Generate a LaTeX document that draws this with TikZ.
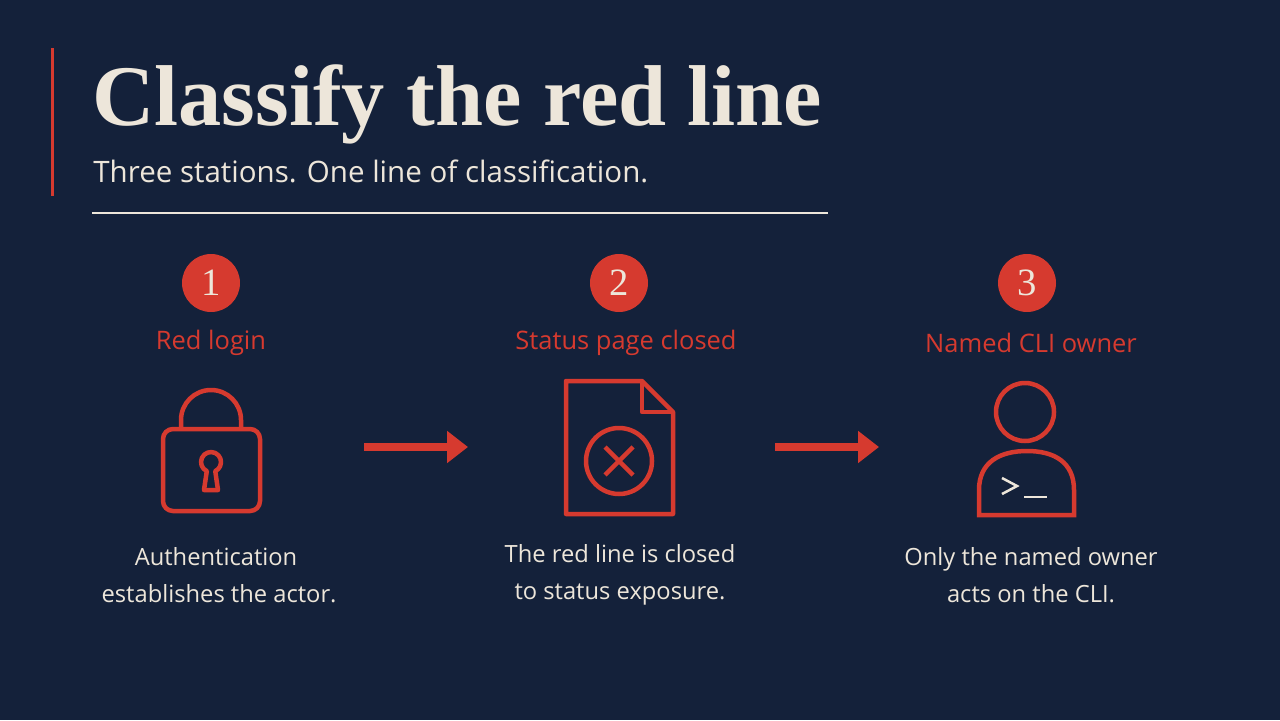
\documentclass[tikz,border=0pt]{standalone}
\usepackage{fontspec}
\setmainfont{Liberation Serif}
\setsansfont{Open Sans}
\usetikzlibrary{positioning,arrows.meta}
\definecolor{navy}{HTML}{14213A}
\definecolor{redline}{HTML}{D63A2F}
\definecolor{cream}{HTML}{EDE6DA}
\tikzset{
	numdot/.style={circle, fill=redline, minimum size=1.16cm, inner sep=0pt, text=cream, font=\fontsize{22}{22}\selectfont},
	steplabel/.style={text=redline, font=\sffamily\fontsize{14.5}{16}\selectfont},
	stepnote/.style={text=cream, align=center, font=\sffamily\fontsize{13.5}{21}\selectfont},
	icon/.style={draw=redline, line width=0.09cm},
	flow/.style={draw=redline, line width=0.16cm, -{Triangle[length=0.42cm, width=0.62cm]}}
}
\begin{document}
\begin{tikzpicture}[x=0.02cm, y=-0.02cm]
	\fill[navy] (0,0) rectangle (1280,720);
	\useasboundingbox (0,0) rectangle (1280,720);
	
	% heading
	\draw[redline, line width=0.06cm] (52,48) -- (52,196);
	\node[anchor=base west, inner sep=0pt, text=cream] (title) at (92,125)
		{\resizebox{14.6cm}{!}{\fontsize{40}{40}\selectfont\bfseries Classify the red line}};
	\node[anchor=base west, inner sep=0pt, text=cream] (subtitle) at (93,182)
		{\resizebox{11.1cm}{!}{\sffamily\fontsize{16}{16}\selectfont Three stations. One line of classification.}};
	\draw[cream, line width=0.04cm] (92,213) -- (828,213);
	
	% station numbers and labels
	\node[numdot] (n1) at (211,283) {1};
	\node[numdot] (n2) at (619,283) {2};
	\node[numdot] (n3) at (1027,283) {3};
	\node[steplabel] (l1) at (211,343) {Red login};
	\node[steplabel] (l2) at (626,343) {Status page closed};
	\node[steplabel] (l3) at (1031,343) {Named CLI owner};
	
	% lock
	\draw[icon, rounded corners=0.2cm] (163,429) rectangle (260,511);
	\draw[icon] (181,429) -- (181,420) arc[start angle=180, end angle=360, radius=30] -- (241,429);
	\draw[icon, line join=round] (206.8,471.1) arc[start angle=115, end angle=425, radius=10] -- (218,490) -- (204,490) -- cycle;
	
	% document
	\draw[icon, line join=round] (566,381) -- (642,381) -- (673,412) -- (673,514) -- (566,514) -- cycle;
	\draw[icon, line join=round] (642,381) -- (642,412) -- (673,412);
	\draw[icon] (619,461) circle[radius=33];
	\draw[icon] (605,447) -- (633,475) (633,447) -- (605,475);
	
	% person
	\draw[icon] (1025,412) circle[radius=29];
	\draw[icon] (979,515) -- (979,490) .. controls (979,462) and (1000,451) .. (1027,451)
		.. controls (1054,451) and (1074,462) .. (1074,490) -- (1074,515) -- cycle;
	\draw[draw=cream, line width=0.05cm] (1002,478) -- (1017,486) -- (1002,494);
	\draw[draw=cream, line width=0.05cm] (1024,497) -- (1047,497);
	
	% connectors between stations
	\coordinate (a1s) at (364,447);
	\coordinate (a1e) at (468,447);
	\coordinate (a2s) at (775,447);
	\coordinate (a2e) at (879,447);
	\draw[flow] (a1s) -- (a1e);
	\draw[flow] (a2s) -- (a2e);
	
	% notes
	\node[stepnote] (t1) at (216,575) {Authentication\\\ establishes the actor.};
	\node[stepnote] (t2) at (620,575) {The red line is closed\\to status exposure.};
	\node[stepnote] (t3) at (1031,575) {Only the named owner\\acts on the CLI.};
\end{tikzpicture}
\end{document}
